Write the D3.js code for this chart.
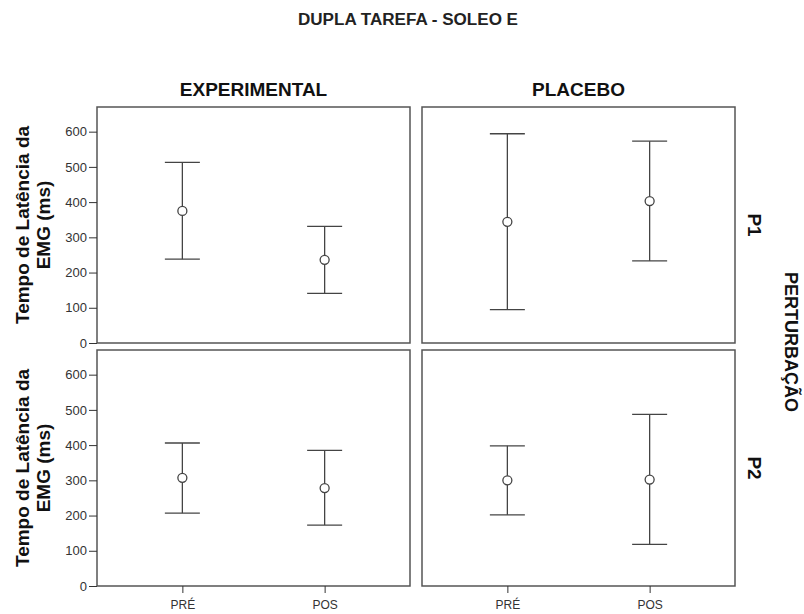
<!DOCTYPE html>
<html>
<head>
<meta charset="utf-8">
<script src="https://cdn.jsdelivr.net/npm/d3@7"></script>
<style>
  body { margin: 0; background: #fff; }
  text { font-family: "Liberation Sans", Arial, sans-serif; }
</style>
</head>
<body>
<svg width="804" height="614"></svg>
<script>
// data: mean with lower / upper error bar ends
let groups = ['EXPERIMENTAL', 'PLACEBO'];
let perturbations = ['P1', 'P2'];
let moments = ['PRÉ', 'POS'];
let yTicks = [0, 100, 200, 300, 400, 500, 600];

let means = {
  'EXPERIMENTAL-P1': [375, 236],
  'PLACEBO-P1':      [344, 403],
  'EXPERIMENTAL-P2': [307, 278],
  'PLACEBO-P2':      [300, 302]
};
let lows = {
  'EXPERIMENTAL-P1': [238, 141],
  'PLACEBO-P1':      [95, 233],
  'EXPERIMENTAL-P2': [207, 173],
  'PLACEBO-P2':      [202, 118]
};
let highs = {
  'EXPERIMENTAL-P1': [513, 331],
  'PLACEBO-P1':      [594, 573],
  'EXPERIMENTAL-P2': [406, 385],
  'PLACEBO-P2':      [398, 487]
};

let svg = d3.select('svg');
let panelW = 313, panelH = 236;
let colX = [97, 422];
let rowY = [107, 350];
let stroke = '#444';

let xScale = d3.scalePoint().domain(moments).range([0, panelW]).padding(0.6);
let yScale = d3.scaleLinear().domain([0, 670]).range([panelH, 0]);

svg.append('text')
    .attr('x', 408).attr('y', 25)
    .attr('text-anchor', 'middle')
    .attr('font-size', 16).attr('font-weight', 'bold')
    .attr('textLength', 220).attr('lengthAdjust', 'spacingAndGlyphs')
    .attr('fill', '#222')
    .text('DUPLA TAREFA - SOLEO E');

groups.forEach((g, ci) => {
  svg.append('text')
      .attr('x', colX[ci] + panelW / 2).attr('y', 96)
      .attr('text-anchor', 'middle')
      .attr('font-size', 19).attr('font-weight', 'bold')
      .attr('fill', '#111')
      .text(g);
});

perturbations.forEach((p, ri) => {
  let cy = rowY[ri] + panelH / 2;
  svg.append('text')
      .attr('transform', `translate(748,${cy}) rotate(90)`)
      .attr('text-anchor', 'middle')
      .attr('font-size', 19).attr('font-weight', 'bold')
      .attr('fill', '#111')
      .text(p);

  // y axis title for each row, two lines
  [['Tempo de Latência da', 28.5], ['EMG (ms)', 50]].forEach(([line, x]) => {
    svg.append('text')
        .attr('transform', `translate(${x},${cy}) rotate(-90)`)
        .attr('text-anchor', 'middle')
        .attr('font-size', 19).attr('font-weight', 'bold')
        .attr('fill', '#111')
        .text(line);
  });
});

svg.append('text')
    .attr('transform', `translate(785,342) rotate(90)`)
    .attr('text-anchor', 'middle')
    .attr('font-size', 18).attr('font-weight', 'bold')
    .attr('fill', '#111')
    .text('PERTURBAÇÃO');

perturbations.forEach((p, ri) => {
  groups.forEach((g, ci) => {
    let key = g + '-' + p;
    let panel = svg.append('g')
        .attr('transform', `translate(${colX[ci]},${rowY[ri]})`);

    panel.append('rect')
        .attr('width', panelW).attr('height', panelH)
        .attr('fill', 'none').attr('stroke', '#555').attr('stroke-width', 1.5);

    if (ci === 0) {
      let ax = panel.append('g')
          .call(d3.axisLeft(yScale).tickValues(yTicks).tickSize(8).tickPadding(2));
      ax.select('.domain').remove();
      ax.selectAll('line').attr('stroke', '#333');
      ax.selectAll('text')
          .attr('font-size', 13).attr('fill', '#333')
          .style('font-family', '"Liberation Sans", Arial, sans-serif');
    }
    if (ri === 1) {
      let ax = panel.append('g')
          .attr('transform', `translate(0,${panelH})`)
          .call(d3.axisBottom(xScale).tickSize(7).tickPadding(7));
      ax.select('.domain').remove();
      ax.selectAll('line').attr('stroke', '#333');
      ax.selectAll('text')
          .attr('font-size', 12).attr('fill', '#333')
          .style('font-family', '"Liberation Sans", Arial, sans-serif');
    }

    let rows = moments.map((m, i) => ({ m, mean: means[key][i], lo: lows[key][i], hi: highs[key][i] }));
    let bars = panel.selectAll('.bar').data(rows).enter().append('g');

    bars.append('line')
        .attr('x1', d => xScale(d.m)).attr('x2', d => xScale(d.m))
        .attr('y1', d => yScale(d.lo)).attr('y2', d => yScale(d.hi))
        .attr('stroke', stroke).attr('stroke-width', 1.3);
    bars.append('line')
        .attr('x1', d => xScale(d.m) - 17.5).attr('x2', d => xScale(d.m) + 17.5)
        .attr('y1', d => yScale(d.hi)).attr('y2', d => yScale(d.hi))
        .attr('stroke', stroke).attr('stroke-width', 1.3);
    bars.append('line')
        .attr('x1', d => xScale(d.m) - 17.5).attr('x2', d => xScale(d.m) + 17.5)
        .attr('y1', d => yScale(d.lo)).attr('y2', d => yScale(d.lo))
        .attr('stroke', stroke).attr('stroke-width', 1.3);
    bars.append('circle')
        .attr('cx', d => xScale(d.m)).attr('cy', d => yScale(d.mean))
        .attr('r', 4.5)
        .attr('fill', '#fff').attr('stroke', stroke).attr('stroke-width', 1.3);
  });
});
</script>
</body>
</html>
